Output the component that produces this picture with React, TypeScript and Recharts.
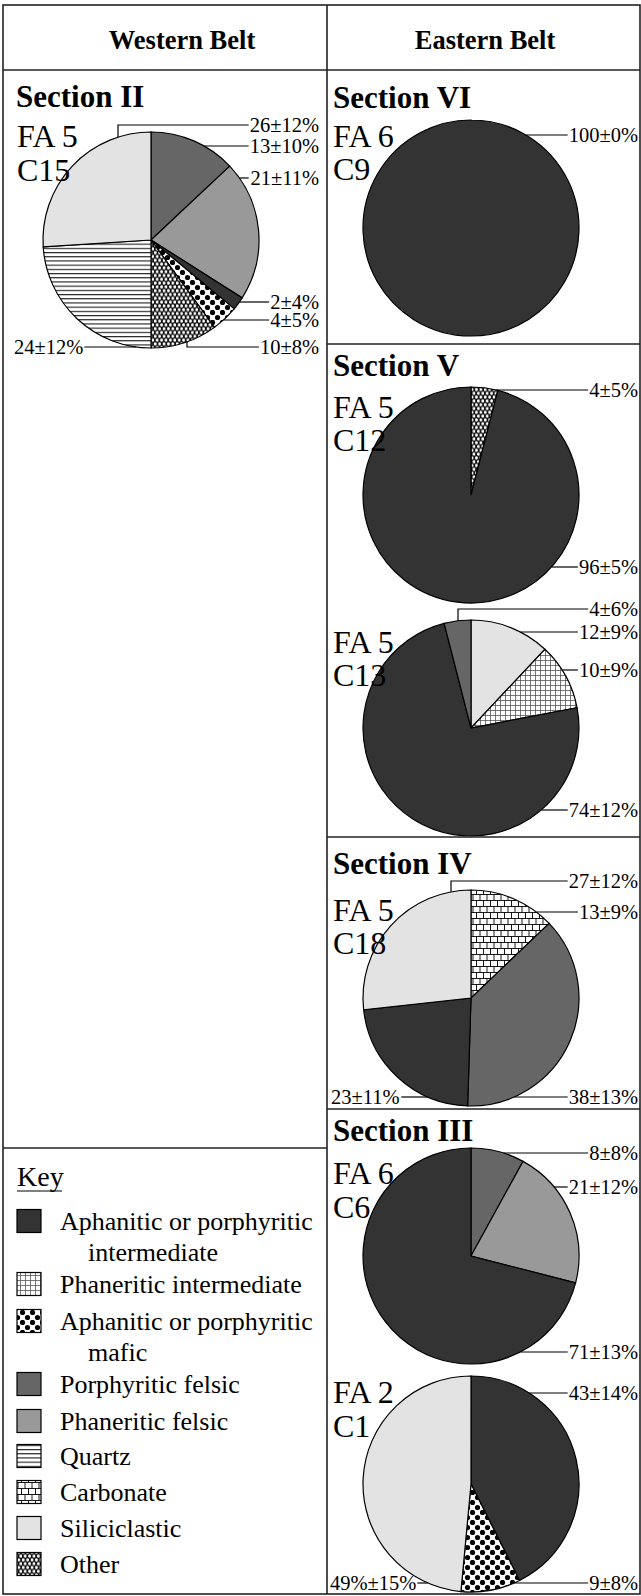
import { PieChart, Pie, Cell } from 'recharts'

type Kind =
  | 'aphInt' | 'phanInt' | 'mafic' | 'porphFelsic' | 'phanFelsic'
  | 'quartz' | 'carbonate' | 'silic' | 'other'

// ---- data ----
const legendKinds: Kind[] = ['aphInt', 'phanInt', 'mafic', 'porphFelsic', 'phanFelsic', 'quartz', 'carbonate', 'silic', 'other']
const legendNames = [
  ['Aphanitic or porphyritic', 'intermediate'],
  ['Phaneritic intermediate'],
  ['Aphanitic or porphyritic', 'mafic'],
  ['Porphyritic felsic'],
  ['Phaneritic felsic'],
  ['Quartz'],
  ['Carbonate'],
  ['Siliciclastic'],
  ['Other'],
]

// Section II, FA 5, C15
const c15Kinds: Kind[] = ['porphFelsic', 'phanFelsic', 'aphInt', 'mafic', 'other', 'quartz', 'silic']
const c15Values = [13, 21, 2, 4, 10, 24, 26]
const c15Errors = [10, 11, 4, 5, 8, 12, 12]

// Section VI, FA 6, C9
const c9Kinds: Kind[] = ['aphInt']
const c9Values = [100]
const c9Errors = [0]

// Section V, FA 5, C12
const c12Kinds: Kind[] = ['other', 'aphInt']
const c12Values = [4, 96]
const c12Errors = [5, 5]

// Section V, FA 5, C13
const c13Kinds: Kind[] = ['silic', 'phanInt', 'aphInt', 'porphFelsic']
const c13Values = [12, 10, 74, 4]
const c13Errors = [9, 9, 12, 6]

// Section IV, FA 5, C18
const c18Kinds: Kind[] = ['carbonate', 'porphFelsic', 'aphInt', 'silic']
const c18Values = [13, 38, 23, 27]
const c18Errors = [9, 13, 11, 12]

// Section III, FA 6, C6
const c6Kinds: Kind[] = ['porphFelsic', 'phanFelsic', 'aphInt']
const c6Values = [8, 21, 71]
const c6Errors = [8, 12, 13]

// Section III, FA 2, C1
const c1Kinds: Kind[] = ['aphInt', 'mafic', 'silic']
const c1Values = [43, 9, 49]
const c1Errors = [14, 8, 15]

const fills: Record<Kind, string> = {
  aphInt: '#333333',
  phanInt: 'url(#pat-grid)',
  mafic: 'url(#pat-dots)',
  porphFelsic: '#666666',
  phanFelsic: '#999999',
  quartz: 'url(#pat-lines)',
  carbonate: 'url(#pat-brick)',
  silic: '#e3e3e3',
  other: 'url(#pat-hex)',
}

const SERIF = '"Liberation Serif", "Times New Roman", serif'
const R = 108
const LABEL_FS = 20.5

const fmt = (v: number, e: number) => `${v}±${e}%`

// label placement: y of the leader, side of the text, optional vertical tick
type LabelPos = { y: number; side: 'left' | 'right'; tick?: number }

type PieSpec = {
  id: string
  cx: number
  cy: number
  kinds: Kind[]
  values: number[]
  texts: string[]
  labels: LabelPos[]
  textLeft: number
  textRight: number
}

const pies: PieSpec[] = [
  {
    id: 'c15', cx: 151, cy: 240, kinds: c15Kinds, values: c15Values,
    texts: c15Values.map((v, i) => fmt(v, c15Errors[i])),
    labels: [
      { y: 146, side: 'right' }, { y: 178, side: 'right' }, { y: 302, side: 'right' },
      { y: 320, side: 'right' }, { y: 347, side: 'right', tick: 36 }, { y: 347, side: 'left' },
      { y: 125, side: 'right', tick: -33 },
    ],
    textLeft: 14, textRight: 319,
  },
  {
    id: 'c9', cx: 471, cy: 228, kinds: c9Kinds, values: c9Values,
    texts: c9Values.map((v, i) => fmt(v, c9Errors[i])),
    labels: [{ y: 135, side: 'right' }],
    textLeft: 331, textRight: 638,
  },
  {
    id: 'c12', cx: 471, cy: 495, kinds: c12Kinds, values: c12Values,
    texts: c12Values.map((v, i) => fmt(v, c12Errors[i])),
    labels: [{ y: 390, side: 'right' }, { y: 567, side: 'right' }],
    textLeft: 331, textRight: 638,
  },
  {
    id: 'c13', cx: 471, cy: 728, kinds: c13Kinds, values: c13Values,
    texts: c13Values.map((v, i) => fmt(v, c13Errors[i])),
    labels: [
      { y: 632, side: 'right' }, { y: 670, side: 'right' }, { y: 810, side: 'right' },
      { y: 609, side: 'right', tick: -13 },
    ],
    textLeft: 331, textRight: 638,
  },
  {
    id: 'c18', cx: 471, cy: 998, kinds: c18Kinds, values: c18Values,
    texts: c18Values.map((v, i) => fmt(v, c18Errors[i])),
    labels: [
      { y: 912, side: 'right' }, { y: 1097, side: 'right' }, { y: 1097, side: 'left' },
      { y: 881, side: 'right', tick: -20 },
    ],
    textLeft: 331, textRight: 638,
  },
  {
    id: 'c6', cx: 471, cy: 1256, kinds: c6Kinds, values: c6Values,
    texts: c6Values.map((v, i) => fmt(v, c6Errors[i])),
    labels: [{ y: 1153, side: 'right' }, { y: 1187, side: 'right' }, { y: 1352, side: 'right' }],
    textLeft: 331, textRight: 638,
  },
  {
    id: 'c1', cx: 471, cy: 1484, kinds: c1Kinds, values: c1Values,
    texts: ['43±14%', '9±8%', '49%±15%'],
    labels: [{ y: 1393, side: 'right' }, { y: 1583, side: 'right' }, { y: 1583, side: 'left' }],
    textLeft: 330, textRight: 638,
  },
]

const charW = (ch: string) => {
  if (ch >= '0' && ch <= '9') return 0.5
  if (ch === '±') return 0.549
  if (ch === '%') return 0.833
  return 0.5
}
const textW = (s: string, fs: number) => s.split('').reduce((a, c) => a + charW(c), 0) * fs

function makeLabel(spec: PieSpec) {
  return (props: any) => {
    const index: number = props.index
    const cx = spec.cx
    const cy = spec.cy
    const r = props.outerRadius ?? R
    const l = spec.labels[index]
    const text = spec.texts[index]
    if (!l) return null
    const tw = textW(text, LABEL_FS)
    let d = ''
    let tx = 0
    let anchor: 'start' | 'end' = 'end'
    if (l.side === 'right') {
      const x1 = spec.textRight - tw - 1
      if (l.tick !== undefined) {
        const x0 = cx + l.tick
        const sgn = l.y < cy ? -1 : 1
        const y0 = cy + sgn * Math.sqrt(r * r - l.tick * l.tick)
        d = `M${x0},${y0}L${x0},${l.y}L${x1},${l.y}`
      } else {
        const dy = l.y - cy
        const h = Math.sqrt(Math.max(0, r * r - dy * dy))
        d = `M${cx + h},${l.y}L${x1},${l.y}`
      }
      tx = spec.textRight
    } else {
      const dy = l.y - cy
      const h = Math.sqrt(Math.max(0, r * r - dy * dy))
      const x1 = spec.textLeft + tw + 1
      d = `M${x1},${l.y}L${cx - h},${l.y}`
      tx = spec.textLeft
      anchor = 'start'
    }
    return (
      <g key={`lab-${spec.id}-${index}`}>
        <path d={d} stroke="#000" strokeWidth={1.2} fill="none" />
        <text x={tx} y={l.y} dy="0.33em" textAnchor={anchor} fontSize={LABEL_FS} fontFamily={SERIF} fill="#000">
          {text}
        </text>
      </g>
    )
  }
}

// ---- page texts ----
const sectionTitles = [
  { t: 'Section II', x: 16, y: 107 },
  { t: 'Section VI', x: 333, y: 108 },
  { t: 'Section V', x: 333, y: 376 },
  { t: 'Section IV', x: 333, y: 874 },
  { t: 'Section III', x: 333, y: 1141 },
]
const subTitles = [
  { t: 'FA 5', x: 17, y: 147 }, { t: 'C15', x: 17, y: 181 },
  { t: 'FA 6', x: 333, y: 147 }, { t: 'C9', x: 333, y: 180 },
  { t: 'FA 5', x: 333, y: 418 }, { t: 'C12', x: 333, y: 451 },
  { t: 'FA 5', x: 333, y: 653 }, { t: 'C13', x: 333, y: 686 },
  { t: 'FA 5', x: 333, y: 921 }, { t: 'C18', x: 333, y: 954 },
  { t: 'FA 6', x: 333, y: 1184 }, { t: 'C6', x: 333, y: 1218 },
  { t: 'FA 2', x: 333, y: 1403 }, { t: 'C1', x: 333, y: 1437 },
]
const legendRowY = [1221, 1284, 1321, 1384, 1421, 1456, 1492, 1528, 1564]

function Patterns() {
  return (
    <svg width={0} height={0} style={{ position: 'absolute' }}>
      <defs>
        <pattern id="pat-grid" width={5} height={5} patternUnits="userSpaceOnUse">
          <rect width={5} height={5} fill="#fff" />
          <path d="M0,0.5H5M0.5,0V5" stroke="#555" strokeWidth={0.8} />
        </pattern>
        <pattern id="pat-dots" width={10} height={10} patternUnits="userSpaceOnUse">
          <rect width={10} height={10} fill="#fff" />
          <circle cx={2.5} cy={2.5} r={2.6} fill="#000" />
          <circle cx={7.5} cy={7.5} r={2.6} fill="#000" />
        </pattern>
        <pattern id="pat-lines" width={6} height={4.2} patternUnits="userSpaceOnUse">
          <rect width={6} height={4.2} fill="#fff" />
          <path d="M0,0.6H6" stroke="#000" strokeWidth={1} />
        </pattern>
        <pattern id="pat-brick" width={14} height={12} patternUnits="userSpaceOnUse">
          <rect width={14} height={12} fill="#fff" />
          <path d="M0,0.5H14M0,6.5H14M0.5,0.5V6.5M7.5,0.5V6.5M4,6.5V12.5M11,6.5V12.5" stroke="#000" strokeWidth={0.9} />
        </pattern>
        <pattern id="pat-hex" width={4.4} height={7.6} patternUnits="userSpaceOnUse">
          <rect width={4.4} height={7.6} fill="#111" />
          <circle cx={1.1} cy={1.9} r={1.6} fill="#fff" />
          <circle cx={3.3} cy={5.7} r={1.6} fill="#fff" />
        </pattern>
      </defs>
    </svg>
  )
}

export default function App() {
  const W = 641
  const H = 1596
  const lineCol = '#222'
  // full-circle arc length, used to hide the radial seam of a 100% pie
  const fullArc = 2 * Math.PI * R * (359.999 / 360)
  return (
    <div style={{ position: 'absolute', left: 0, top: 0, width: W, height: H, background: '#fff' }}>
      <Patterns />
      <div style={{ position: 'absolute', left: 0, top: 0 }}>
        <PieChart width={W} height={H} margin={{ top: 0, right: 0, bottom: 0, left: 0 }}>
          {pies.map((p) => (
            <Pie
              key={p.id}
              data={p.values.map((v, i) => ({ name: p.kinds[i], value: v }))}
              dataKey="value"
              nameKey="name"
              cx={p.cx}
              cy={p.cy}
              outerRadius={R}
              startAngle={90}
              endAngle={-270}
              stroke="#000"
              strokeWidth={1.2}
              isAnimationActive={false}
              labelLine={false}
              label={makeLabel(p)}
            >
              {p.kinds.map((k, i) => (
                <Cell
                  key={i}
                  fill={fills[k]}
                  stroke="#000"
                  strokeDasharray={p.values.length === 1 ? `${fullArc} 2000` : undefined}
                />
              ))}
            </Pie>
          ))}
        </PieChart>
      </div>
      <svg width={W} height={H} style={{ position: 'absolute', left: 0, top: 0, pointerEvents: 'none' }}>
        {/* table frame */}
        <g stroke={lineCol} strokeWidth={1.6} fill="none">
          <rect x={3} y={5} width={637} height={1589} />
          <line x1={3} y1={70} x2={640} y2={70} />
          <line x1={327} y1={5} x2={327} y2={1594} />
          <line x1={327} y1={344} x2={640} y2={344} />
          <line x1={327} y1={837} x2={640} y2={837} />
          <line x1={327} y1={1109} x2={640} y2={1109} />
          <line x1={3} y1={1148} x2={327} y2={1148} />
        </g>
        <g fontFamily={SERIF} fill="#000">
          <text x={182} y={49} textAnchor="middle" fontSize={26.5} fontWeight="bold">Western Belt</text>
          <text x={485} y={49} textAnchor="middle" fontSize={26.5} fontWeight="bold">Eastern Belt</text>
          {sectionTitles.map((s, i) => (
            <text key={i} x={s.x} y={s.y} fontSize={31} fontWeight="bold">{s.t}</text>
          ))}
          {subTitles.map((s, i) => (
            <text key={i} x={s.x} y={s.y} fontSize={32}>{s.t}</text>
          ))}
          {/* key */}
          <text x={17} y={1186} fontSize={28}>Key</text>
          <line x1={17} y1={1191} x2={62} y2={1191} stroke="#000" strokeWidth={1.2} />
          {legendKinds.map((k, i) => {
            const y = legendRowY[i]
            return (
              <g key={k}>
                <rect x={17} y={y - 11.5} width={24} height={23} fill={fills[k]} stroke="#000" strokeWidth={1.2} />
                {legendNames[i].map((ln, j) => (
                  <text key={j} x={j === 0 ? 60 : 88} y={y + 9 + j * 31} fontSize={26}>{ln}</text>
                ))}
              </g>
            )
          })}
        </g>
      </svg>
    </div>
  )
}
